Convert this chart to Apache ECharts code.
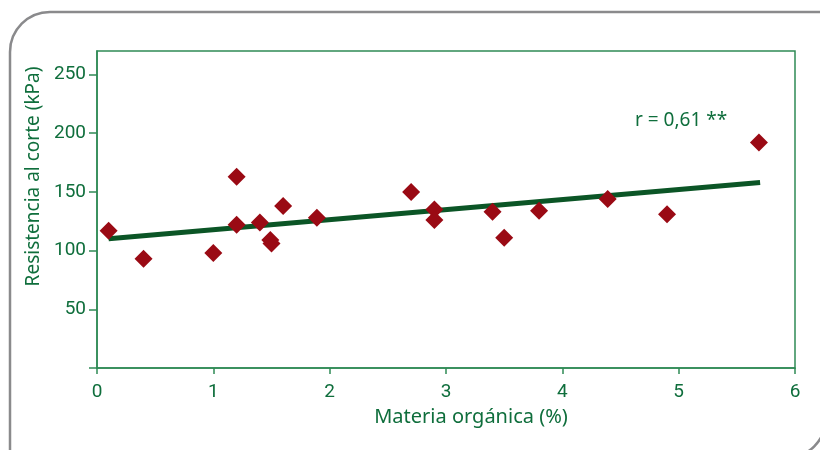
<!DOCTYPE html>
<html>
<head>
<meta charset="utf-8">
<script src="https://cdn.jsdelivr.net/npm/echarts@6/dist/echarts.min.js"></script>
<style>
  html, body { margin: 0; padding: 0; background: #fff; }
  #chart { width: 820px; height: 450px; }
</style>
</head>
<body>
<div id="chart"></div>
<script>
// materia organica (%) y resistencia al corte (kPa)
const materiaOrganica = [0.1, 0.4, 1.0, 1.2, 1.2, 1.4, 1.49, 1.5, 1.6, 1.89, 2.7, 2.9, 2.9, 3.4, 3.5, 3.8, 4.39, 4.9, 5.69]
const resistencia = [117, 93, 98, 163, 122, 124, 109, 106, 138, 128, 150, 135, 126, 133, 111, 134, 144, 131, 192]
// recta de regresion (extremos)
const rectaX = [0.1, 5.7]
const rectaY = [110, 158]
const yTicks = [0, 50, 100, 150, 200, 250]
const yLabels = [50, 100, 150, 200, 250]
const xTicks = [0, 1, 2, 3, 4, 5, 6]

const verde = '#0f6e3c'
const ejeVerde = '#2f8a55'
const numFont = 'Roboto, sans-serif'

const chart = echarts.init(document.getElementById('chart'))
chart.setOption({
    backgroundColor: '#fff',
    animation: false,
    graphic: [
        {
            type: 'rect',
            shape: { x: 10, y: 12, width: 816, height: 446, r: [40, 0, 40, 0] },
            style: { fill: 'none', stroke: '#8a8a8c', lineWidth: 2.5 },
            z: -1
        },
        {
            type: 'text',
            left: 635,
            top: 111,
            style: {
                text: 'r = 0,61 **',
                fill: verde,
                font: '19px "Noto Sans", sans-serif'
            }
        }
    ],
    grid: {
        left: 97,
        top: 51,
        right: 25,
        bottom: 82,
        show: true,
        borderColor: ejeVerde,
        borderWidth: 1.5
    },
    xAxis: {
        type: 'value',
        min: 0,
        max: 6,
        interval: 1,
        name: 'Materia orgánica (%)',
        nameLocation: 'middle',
        nameGap: 39,
        nameTextStyle: {
            color: verde,
            fontSize: 20,
            fontFamily: '"Noto Sans", sans-serif',
            padding: [0, 0, 0, 50]
        },
        axisLine: { lineStyle: { color: ejeVerde, width: 1.5 } },
        axisTick: { show: true, length: 6, lineStyle: { color: ejeVerde, width: 1.5 }, customValues: xTicks },
        axisLabel: { color: verde, fontSize: 19, fontFamily: numFont, margin: 15 },
        splitLine: { show: false }
    },
    yAxis: {
        type: 'value',
        min: 0,
        max: 270,
        interval: 50,
        name: 'Resistencia al corte (kPa)',
        nameLocation: 'middle',
        nameGap: 46,
        nameTextStyle: {
            color: verde,
            fontSize: 19,
            fontFamily: '"Noto Sans", sans-serif',
            padding: [0, 0, 0, 66]
        },
        axisLine: { show: true, lineStyle: { color: ejeVerde, width: 1.5 } },
        axisTick: { show: true, length: 8, lineStyle: { color: ejeVerde, width: 1.5 }, customValues: yTicks },
        axisLabel: { color: verde, fontSize: 19, fontFamily: numFont, margin: 11, customValues: yLabels },
        splitLine: { show: false }
    },
    series: [
        {
            type: 'line',
            data: rectaX.map((x, i) => [x, rectaY[i]]),
            showSymbol: false,
            symbol: 'none',
            lineStyle: { color: '#0b5526', width: 5 },
            z: 2
        },
        {
            type: 'scatter',
            symbol: 'diamond',
            symbolSize: 18,
            data: materiaOrganica.map((x, i) => [x, resistencia[i]]),
            itemStyle: { color: '#9a0a14', opacity: 1 },
            z: 3
        }
    ]
})
</script>
</body>
</html>
